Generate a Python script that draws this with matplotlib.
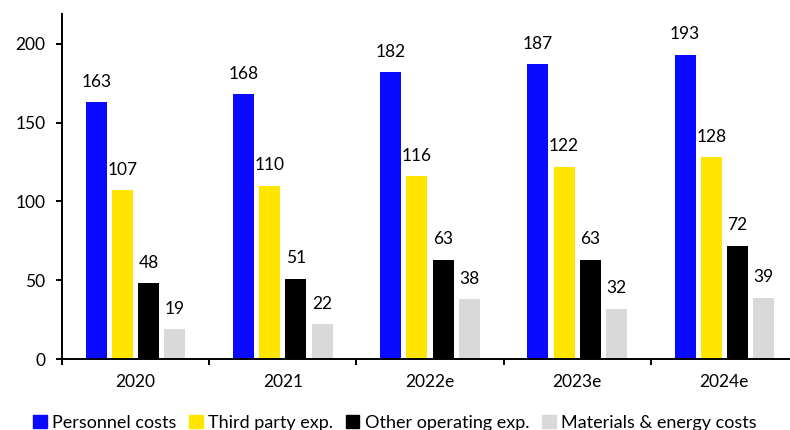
import matplotlib.pyplot as plt
import numpy as np
from matplotlib.patches import Patch

plt.rcParams['font.family'] = ['Lato', 'DejaVu Sans']

years = ['2020', '2021', '2022e', '2023e', '2024e']
personnel = [163, 168, 182, 187, 193]
third_party = [107, 110, 116, 122, 128]
other_opex = [48, 51, 63, 63, 72]
materials = [19, 22, 38, 32, 39]

series = [
    ('Personnel costs', personnel, '#0A0AFF'),
    ('Third party exp.', third_party, '#FFE500'),
    ('Other operating exp.', other_opex, '#000000'),
    ('Materials & energy costs', materials, '#D9D9D9'),
]

fig = plt.figure(figsize=(7.9, 4.3), dpi=100)
# axis runs a little past the right edge, like the source chart
ax = fig.add_axes([62 / 790, 71 / 430, 736 / 790, 345 / 430])

x = np.arange(len(years))
width = 0.143
step = 0.178
for i, (name, vals, col) in enumerate(series):
    pos = x + (i - 1.5) * step
    bars = ax.bar(pos, vals, width, color=col, label=name)
    for b, v in zip(bars, vals):
        ax.annotate(str(v), (b.get_x() + b.get_width() / 2, v),
                    xytext=(0, 9), textcoords='offset points',
                    ha='center', va='bottom', fontsize=12.5)

ax.set_xlim(-0.5, len(years) - 0.5)
ax.set_ylim(0, 219)
ax.set_yticks([0, 50, 100, 150, 200])
ax.set_xticks(x)
ax.set_xticklabels(years)
ax.set_xticks(np.arange(len(years) + 1) - 0.5, minor=True)

ax.spines['top'].set_visible(False)
ax.spines['right'].set_visible(False)
ax.spines['left'].set_linewidth(1.4)
ax.spines['bottom'].set_linewidth(1.4)
ax.tick_params(axis='y', direction='out', length=4, width=1.4, pad=8, labelsize=12.5)
ax.tick_params(axis='x', which='major', length=0, pad=11, labelsize=12.5)
ax.tick_params(axis='x', which='minor', direction='out', length=4, width=1.4)

handles = [Patch(color=c) for _, _, c in series]
labels = [n for n, _, _ in series]
fig.legend(handles, labels, loc='center', bbox_to_anchor=(0.5, 7 / 430), ncol=4,
           frameon=False, fontsize=13, handlelength=0.75, handleheight=0.75,
           handletextpad=0.3, columnspacing=0.7, borderpad=0)

fig.savefig('out.png', dpi=100)
